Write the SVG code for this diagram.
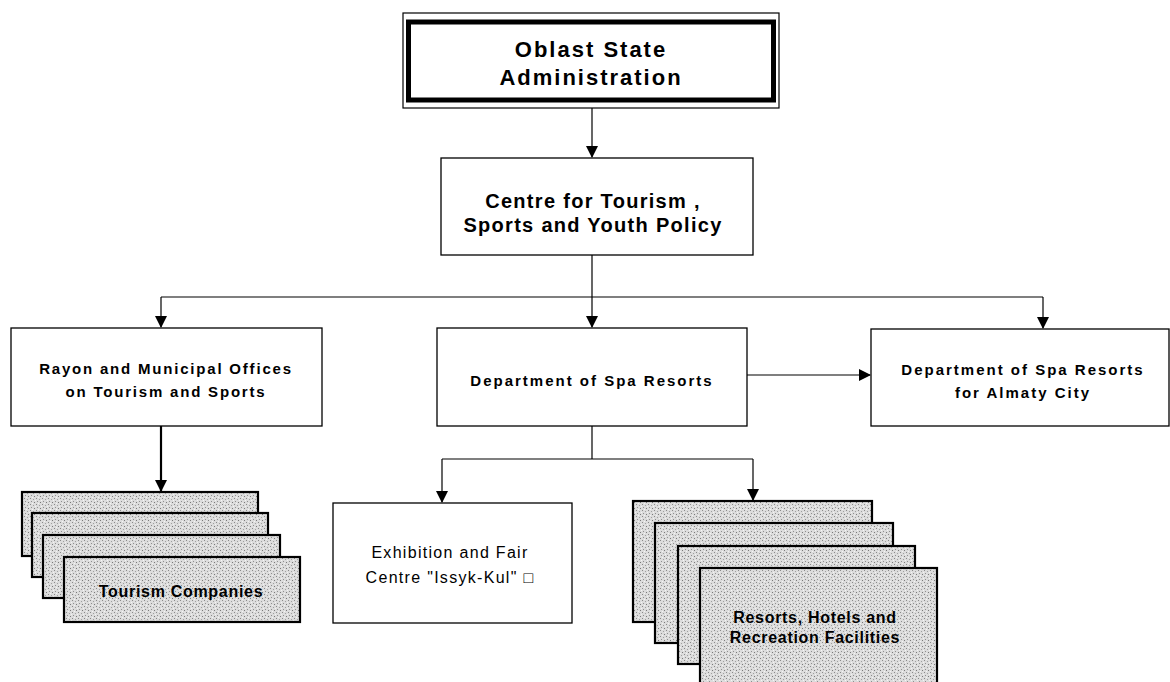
<svg xmlns="http://www.w3.org/2000/svg" width="1170" height="682" viewBox="0 0 1170 682">
<defs>
<pattern id="stip" width="6" height="6" patternUnits="userSpaceOnUse">
<rect width="6" height="6" fill="#dcdcdc"/>
<rect x="0" y="0" width="1" height="1" fill="#8a8a8a"/>
<rect x="3" y="1" width="1" height="1" fill="#a0a0a0"/>
<rect x="1" y="3" width="1" height="1" fill="#909090"/>
<rect x="4" y="4" width="1" height="1" fill="#7a7a7a"/>
<rect x="5" y="2" width="1" height="1" fill="#f4f4f4"/>
<rect x="2" y="5" width="1" height="1" fill="#f4f4f4"/>
</pattern>
<marker id="ah" markerWidth="12" markerHeight="12" refX="11" refY="6" orient="auto" markerUnits="userSpaceOnUse">
<path d="M0,0 L12,6 L0,12 Z" fill="#000"/>
</marker>
</defs>
<style>
.box{fill:#fff;stroke:#000;stroke-width:1.3}
.card{fill:url(#stip);stroke:#000;stroke-width:2.2}
.ln{fill:none;stroke:#000;stroke-width:1.2}
.thk{fill:none;stroke:#000;stroke-width:2.2}
.tb{font-family:"Liberation Sans",Arial,sans-serif;font-weight:bold;fill:#000;text-anchor:middle}
.tr{font-family:"Liberation Sans",Arial,sans-serif;fill:#000;text-anchor:middle}
</style>
<g id="connectors">
<path class="ln" d="M592,108 V157" marker-end="url(#ah)"/>
<path class="ln" d="M592,255 V297"/>
<path class="ln" d="M161,297 H1043"/>
<path class="ln" d="M161,297 V327" marker-end="url(#ah)"/>
<path class="ln" d="M592,297 V327" marker-end="url(#ah)"/>
<path class="ln" d="M1043,297 V328" marker-end="url(#ah)"/>
<path class="ln" d="M747,375 H870" marker-end="url(#ah)"/>
<path class="thk" d="M161,426 V491" marker-end="url(#ah)"/>
<path class="ln" d="M592,426 V459"/>
<path class="ln" d="M442,459 H753"/>
<path class="ln" d="M442,459 V502" marker-end="url(#ah)"/>
<path class="ln" d="M753,459 V500" marker-end="url(#ah)"/>
</g>
<g id="oblast">
<rect x="403" y="13" width="376" height="95" fill="#fff" stroke="#000" stroke-width="1.2"/>
<rect x="408.5" y="22" width="365" height="78" fill="none" stroke="#000" stroke-width="5"/>
<text class="tb" x="591" y="57" font-size="22" letter-spacing="2">Oblast State</text>
<text class="tb" x="591" y="85" font-size="22" letter-spacing="2">Administration</text>
</g>
<g id="centre">
<rect class="box" x="441" y="158" width="312" height="97"/>
<text class="tb" x="593" y="208" font-size="20" letter-spacing="1.3">Centre for Tourism ,</text>
<text class="tb" x="593" y="232" font-size="20" letter-spacing="1.3">Sports and Youth Policy</text>
</g>
<g id="rayon">
<rect class="box" x="11" y="328" width="311" height="98"/>
<text class="tb" x="166" y="374" font-size="15" letter-spacing="1.8">Rayon and Municipal Offices</text>
<text class="tb" x="166" y="397" font-size="15" letter-spacing="1.8">on Tourism and Sports</text>
</g>
<g id="spa">
<rect class="box" x="437" y="328" width="310" height="98"/>
<text class="tb" x="592" y="386" font-size="15" letter-spacing="2">Department of Spa Resorts</text>
</g>
<g id="almaty">
<rect class="box" x="871" y="329" width="298" height="97"/>
<text class="tb" x="1023" y="375" font-size="15" letter-spacing="2">Department of Spa Resorts</text>
<text class="tb" x="1023" y="398" font-size="15" letter-spacing="2">for Almaty City</text>
</g>
<g id="tourism-companies">
<rect class="card" x="22" y="492" width="236" height="64"/>
<rect class="card" x="32" y="513" width="236" height="64"/>
<rect class="card" x="43" y="535" width="237" height="63"/>
<rect class="card" x="64" y="557" width="236" height="65"/>
<text class="tb" x="181" y="597" font-size="16" letter-spacing="0.7">Tourism Companies</text>
</g>
<g id="exhibition">
<rect class="box" x="333" y="503" width="239" height="120"/>
<text class="tr" x="450" y="558" font-size="16" letter-spacing="1.3">Exhibition and Fair</text>
<text class="tr" x="450" y="583" font-size="16" letter-spacing="1.3">Centre "Issyk-Kul" □</text>
</g>
<g id="resorts">
<rect class="card" x="633" y="501" width="239" height="121"/>
<rect class="card" x="655" y="523" width="238" height="120"/>
<rect class="card" x="678" y="546" width="237" height="118"/>
<rect class="card" x="700" y="568" width="237" height="125"/>
<text class="tb" x="815" y="623" font-size="16" letter-spacing="0.7">Resorts, Hotels and</text>
<text class="tb" x="815" y="643" font-size="16" letter-spacing="0.7">Recreation Facilities</text>
</g>
</svg>
